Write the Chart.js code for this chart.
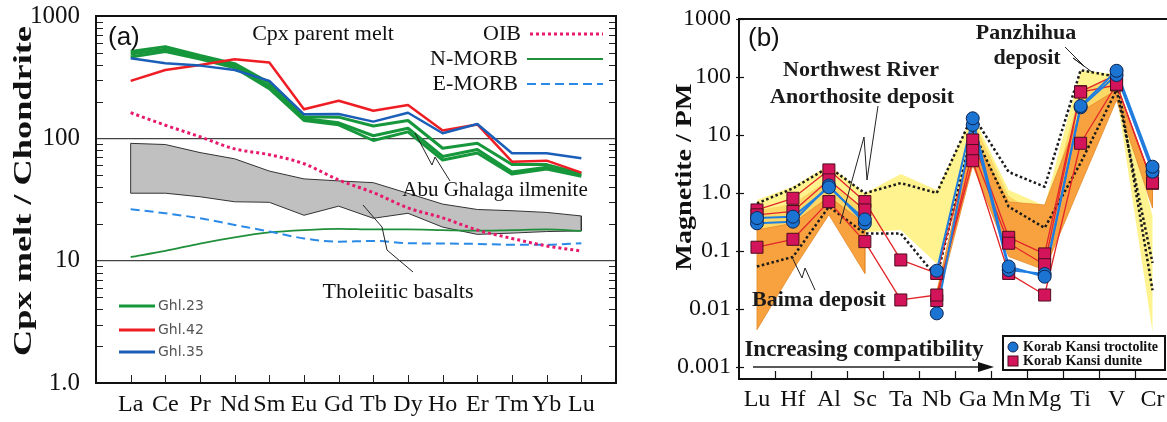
<!DOCTYPE html>
<html><head><meta charset="utf-8">
<script src="https://cdn.jsdelivr.net/npm/chart.js@4.4.1/dist/chart.umd.min.js"></script>
<style>
html,body{margin:0;padding:0;background:#fff;overflow:hidden;}
body{width:1167px;height:422px;position:relative;}
#ca{position:absolute;left:0;top:0;}
#cb{position:absolute;left:640px;top:0;}
</style></head><body>
<canvas id="ca" width="640" height="422"></canvas>
<canvas id="cb" width="540" height="422"></canvas>
<script>
// ---------------- Panel (a) data ----------------
const reeLabels = ['La','Ce','Pr','Nd','Sm','Eu','Gd','Tb','Dy','Ho','Er','Tm','Yb','Lu'];
const ghl23Upper = [512, 562, 475, 408, 285, 150, 149, 126, 140, 83, 91, 61, 61, 51.5];
const ghl23Mid   = [490, 535, 460, 392, 268, 145, 134, 105, 121, 71, 81, 53, 58, 50];
const ghl23Low   = [463, 512, 445, 378, 255, 140, 129, 96, 113, 66.5, 76, 51, 56, 49];
const ghl42 = [295, 362, 398, 443, 416, 173, 203, 168, 187, 116, 130, 64.5, 65.7, 52.5];
const ghl35 = [452, 411, 393, 362, 295, 157, 158, 137, 162, 110, 131, 75.5, 75.5, 68.8];
const oib   = [162, 128, 103, 82, 73.5, 62, 45.7, 36, 27, 22.4, 17.8, 15.2, 13.2, 12.0];
const nmorb = [10.7, 12, 13.8, 15.5, 17, 17.8, 18.2, 18, 18, 17.8, 17.6, 17.8, 18, 17.5];
const emorb = [26.3, 24.4, 22.2, 19.6, 17.3, 15.2, 14.3, 14.5, 13.9, 13.8, 13.7, 13.5, 13.5, 13.9];
const tholUpper = [91, 89, 76.5, 68, 54, 46.6, 44.9, 43.4, 35.5, 29, 26.2, 25.6, 24.8, 23.2];
const tholLower = [35.6, 35.6, 33.3, 30.3, 30, 23.5, 27.9, 22.2, 24.4, 18.8, 16.4, 16.8, 17.3, 17.5];
const yTicksA = [1, 10, 100, 1000];
const yTickLabelsA = ['1.0', '10', '100', '1000'];

// ---------------- Panel (b) data ----------------
const elemLabels = ['Lu','Hf','Al','Sc','Ta','Nb','Ga','Mn','Mg','Ti','V','Cr'];
const troc1 = [0.37, 0.39, 1.25, 0.35, null, 0.0457, 19.4, 0.054, 0.036, 31.6, 128, 2.84];
const troc2 = [0.30, 0.32, 1.35, 0.30, null, 0.0084, 14.9, 0.047, 0.040, 30, 108, 2.33];
const dun1  = [0.51, 0.81, 2.5, 0.71, 0.070, 0.041, 8.2, 0.172, 0.089, 55.8, 110, 2.5];
const dun2  = [0.42, 0.48, 1.68, 0.51, null, 0.014, 5.4, 0.136, 0.058, 55, 72.8, 1.47];
const dun3  = [0.116, 0.159, 0.71, 0.145, 0.0143, 0.0174, 3.6, 0.041, 0.0174, 7.2, 75, 1.5];
const nwUpper = [0.76, 1.29, 3.0, 0.99, 2.13, 1.13, 22, 1.13, 0.6, 131, 110, 0.4];
const nwLower = [0.12, 0.2, 0.8, 0.21, 0.23, 0.06, 3.5, 0.1, 0.06, 5, 50, 0.004];
const goldUpper = [0.5, 0.65, 1.7, 0.5, null, null, 18, 0.9, 0.35, 60, 100, null];
const goldLower = [0.2, 0.3, 0.8, 0.25, null, null, 4, 0.2, 0.1, 5, 60, null];
const baimaUpper = [0.23, 0.30, 0.86, 0.30, null, 0.02, 10, 0.7, 0.62, 25, 60, 1.5];
const baimaLower = [0.0044, 0.047, 0.42, 0.041, null, 0.012, 3, 0.08, 0.047, 1.4, 40, 0.55];
const dotUpper = [0.66, 1.2, 2.8, 0.99, 1.48, 1.0, 22, 2.3, 1.28, 131, 101, 0.021];
const dotLower = [0.054, 0.079, 0.58, 0.2, 0.2, 0.035, 12, 0.58, 0.25, 3.3, 60, 0.062];
const yTicksB = [0.001, 0.01, 0.1, 1, 10, 100, 1000];
const yTickLabelsB = ['0.001', '0.01', '0.1', '1.0', '10', '100', '1000'];

// ---------------- helpers ----------------
const serif = "'Liberation Serif','Times New Roman',serif";
const sans = "'Liberation Sans',Arial,sans-serif";
const pts = arr => arr.map((v, i) => ({x: i, y: v}));
function polyRuns(up, lo) {
  const runs = []; let cur = [];
  for (let i = 0; i < up.length; i++) {
    if (up[i] == null || lo[i] == null) { if (cur.length) runs.push(cur); cur = []; }
    else cur.push(i);
  }
  if (cur.length) runs.push(cur);
  return runs.map(idx => {
    const p = idx.map(i => ({x: i, y: up[i]}));
    for (let k = idx.length - 1; k >= 0; k--) p.push({x: idx[k], y: lo[idx[k]]});
    p.push({x: idx[0], y: up[idx[0]]});
    return p;
  });
}
function line(ctx, pts) { ctx.beginPath(); ctx.moveTo(pts[0][0], pts[0][1]); for (let i = 1; i < pts.length; i++) ctx.lineTo(pts[i][0], pts[i][1]); ctx.stroke(); }
function txt(ctx, s, x, y, font, color, align) { ctx.font = font; ctx.fillStyle = color || '#111'; ctx.textAlign = align || 'left'; ctx.textBaseline = 'middle'; ctx.fillText(s, x, y); }
function vText(ctx, s, cx, cy, font, len) {
  ctx.save(); ctx.font = font; const w = ctx.measureText(s).width;
  ctx.translate(cx, cy); ctx.rotate(-Math.PI / 2); ctx.scale(len / w, 1);
  ctx.fillStyle = '#111'; ctx.textAlign = 'center'; ctx.textBaseline = 'middle'; ctx.fillText(s, 0, 0); ctx.restore();
}
const fitY = w => s => { s.width = w; s.paddingTop = 0; s.paddingBottom = 0; };
const fitX = h => s => { s.height = h; s.paddingLeft = 0; s.paddingRight = 0; };

// ---------------- Panel (a) ----------------
const GREEN = '#17973b', RED = '#ee1d23', BLUE = '#1a5eb8';
const annotA = {id: 'annotA', afterDraw(chart) {
  const {ctx, chartArea: ca, scales: {x, y}} = chart;
  ctx.save();
  ctx.strokeStyle = '#222'; ctx.lineWidth = 1;
  for (const d of [1, 10, 100]) for (let m = 2; m <= 9; m++) {
    const py = Math.round(y.getPixelForValue(m * d)) + 0.5;
    line(ctx, [[ca.left, py], [ca.left + 7, py]]);
    line(ctx, [[ca.right - 7, py], [ca.right, py]]);
  }
  for (let i = 0; i < reeLabels.length; i++) {
    const px = Math.round(x.getPixelForValue(i)) + 0.5;
    line(ctx, [[px, ca.bottom], [px, ca.bottom - 8]]);
  }
  ctx.lineWidth = 2; ctx.strokeStyle = '#111';
  ctx.strokeRect(ca.left, ca.top, ca.right - ca.left, ca.bottom - ca.top);
  // texts
  txt(ctx, '(a)', 108, 38, '26px ' + sans);
  txt(ctx, 'Cpx parent melt', 323, 34, '22px ' + serif, '#111', 'center');
  txt(ctx, 'OIB', 521, 34, '22px ' + serif, '#111', 'right');
  txt(ctx, 'N-MORB', 518, 59, '22px ' + serif, '#111', 'right');
  txt(ctx, 'E-MORB', 518, 84, '22px ' + serif, '#111', 'right');
  ctx.lineWidth = 3; ctx.strokeStyle = '#e6196d'; ctx.setLineDash([3, 3]);
  line(ctx, [[530, 34], [603, 34]]);
  ctx.setLineDash([]); ctx.lineWidth = 2; ctx.strokeStyle = '#1f8f3a';
  line(ctx, [[527, 59], [603, 59]]);
  ctx.setLineDash([9, 5]); ctx.strokeStyle = '#2a8ae6';
  line(ctx, [[527, 84], [603, 84]]);
  ctx.setLineDash([]);
  txt(ctx, 'Abu Ghalaga ilmenite', 495, 190, '21px ' + serif, '#111', 'center');
  txt(ctx, 'Tholeiitic basalts', 398, 292, '22px ' + serif, '#111', 'center');
  ctx.lineWidth = 1; ctx.strokeStyle = '#222';
  line(ctx, [[450, 181], [435, 157], [432, 165], [415, 133]]);
  line(ctx, [[413, 272], [387, 250], [382, 227], [363, 205]]);
  // Ghl legend
  const lg = [[GREEN, 'Ghl.23', 306], [RED, 'Ghl.42', 330], [BLUE, 'Ghl.35', 352]];
  for (const [c, s, yy] of lg) {
    ctx.strokeStyle = c; ctx.lineWidth = 3; line(ctx, [[119, yy], [155, yy]]);
    txt(ctx, s, 158, yy, '14px ' + "'DejaVu Sans',sans-serif", '#555');
  }
  vText(ctx, 'Cpx melt / Chondrite', 25, 191, 'bold 25px ' + serif, 330);
  ctx.restore();
}};

new Chart(document.getElementById('ca'), {
  type: 'line',
  data: {datasets: [
    {data: polyRuns(tholUpper, tholLower)[0], fill: 'shape', backgroundColor: '#c0c0c0', borderColor: '#333', borderWidth: 1, pointRadius: 0, order: 100},
    {data: pts(nmorb), fill: false, borderColor: '#1f8f3a', borderWidth: 1.8, pointRadius: 0, cubicInterpolationMode: 'monotone', order: 50},
    {data: pts(emorb), fill: false, borderColor: '#2a8ae6', borderWidth: 2, borderDash: [9, 5], pointRadius: 0, cubicInterpolationMode: 'monotone', order: 49},
    {data: pts(oib), fill: false, borderColor: '#e6196d', borderWidth: 3, borderDash: [3, 3], pointRadius: 0, cubicInterpolationMode: 'monotone', order: 48},
    {data: pts(ghl23Upper), fill: false, borderColor: GREEN, borderWidth: 3, pointRadius: 0, order: 12},
    {data: pts(ghl23Mid), fill: false, borderColor: GREEN, borderWidth: 3, pointRadius: 0, order: 11},
    {data: pts(ghl23Low), fill: false, borderColor: GREEN, borderWidth: 3, pointRadius: 0, order: 10},
    {data: pts(ghl42), fill: false, borderColor: RED, borderWidth: 2.5, pointRadius: 0, order: 3},
    {data: pts(ghl35), fill: false, borderColor: BLUE, borderWidth: 2.5, pointRadius: 0, order: 2}
  ]},
  options: {
    responsive: false, animation: false, devicePixelRatio: 1,
    layout: {padding: {top: 16, right: 24, left: 0, bottom: 0}},
    plugins: {legend: {display: false}, tooltip: {enabled: false}},
    elements: {line: {borderJoinStyle: 'round'}},
    scales: {
      x: {type: 'linear', min: -1, max: 14,
        afterBuildTicks: s => { s.ticks = reeLabels.map((_, i) => ({value: i})); },
        afterFit: fitX(39),
        grid: {display: false, drawTicks: false}, border: {display: false},
        ticks: {callback: v => reeLabels[v], font: {family: serif, size: 24}, color: '#111', padding: 7, autoSkip: false, maxRotation: 0}},
      y: {type: 'logarithmic', min: 1, max: 1000, bounds: 'data',
        afterBuildTicks: s => { s.ticks = yTicksA.map(v => ({value: v})); },
        afterFit: fitY(96),
        grid: {drawTicks: false, lineWidth: 1.2, color: c => (c.tick && (c.tick.value === 10 || c.tick.value === 100)) ? '#444' : 'rgba(0,0,0,0)'},
        border: {display: false},
        ticks: {callback: v => yTickLabelsA[yTicksA.indexOf(v)], font: {family: serif, size: 25}, color: '#111', padding: 16}}
    }
  },
  plugins: [annotA]
});

// ---------------- Panel (b) ----------------
const CIRC = '#1c74d2', CIRC_B = '#0d2552', SQ = '#d3145a', SQ_B = '#4d0d1e';
const LBLUE = '#1f7ee0', LRED = '#e3262a';
const annotB = {id: 'annotB', afterDraw(chart) {
  const {ctx, chartArea: ca, scales: {x, y}} = chart;
  ctx.save();
  ctx.strokeStyle = '#111'; ctx.lineWidth = 1.2;
  for (const v of yTicksB) { const py = Math.round(y.getPixelForValue(v)) + 0.5; line(ctx, [[ca.left - 3, py], [ca.left + 5, py]]); }
  for (let i = 0; i < elemLabels.length - 1; i++) { const px = Math.round(x.getPixelForValue(i + 0.5)) + 0.5; line(ctx, [[px, ca.bottom], [px, ca.bottom - 8]]); }
  ctx.lineWidth = 2; ctx.strokeRect(ca.left, ca.top, ca.right - ca.left, ca.bottom - ca.top);
  txt(ctx, '(b)', 108, 39, '26px ' + sans);
  const bf = 'bold 22px ' + serif;
  txt(ctx, 'Panzhihua', 386, 33, bf, '#1a1a1a', 'center');
  txt(ctx, 'deposit', 387, 58, bf, '#1a1a1a', 'center');
  txt(ctx, 'Northwest River', 221, 70, bf, '#1a1a1a', 'center');
  txt(ctx, 'Anorthosite deposit', 222, 97, bf, '#1a1a1a', 'center');
  txt(ctx, 'Baima deposit', 179, 300, bf, '#1a1a1a', 'center');
  txt(ctx, 'Increasing compatibility', 224, 350, 'bold 23px ' + serif, '#1a1a1a', 'center');
  ctx.strokeStyle = '#222'; ctx.lineWidth = 1;
  line(ctx, [[425, 47], [444, 66], [433, 58], [452, 72]]);
  line(ctx, [[238, 106], [227, 180], [224, 137], [200, 224]]);
  line(ctx, [[175, 290], [165, 268], [162, 278], [152, 257]]);
  // arrow
  ctx.lineWidth = 1.5; line(ctx, [[113, 367], [342, 367]]);
  ctx.fillStyle = '#111'; ctx.beginPath(); ctx.moveTo(354, 367); ctx.lineTo(338, 362); ctx.lineTo(338, 372); ctx.closePath(); ctx.fill();
  // legend box
  ctx.fillStyle = '#fff'; ctx.fillRect(363, 336, 162, 34);
  ctx.strokeStyle = '#111'; ctx.lineWidth = 2; ctx.strokeRect(363, 336, 162, 34);
  ctx.lineWidth = 1;
  ctx.fillStyle = CIRC; ctx.strokeStyle = CIRC_B; ctx.beginPath(); ctx.arc(373, 347, 5, 0, 2 * Math.PI); ctx.fill(); ctx.stroke();
  ctx.fillStyle = SQ; ctx.strokeStyle = SQ_B; ctx.fillRect(368, 356, 10, 10); ctx.strokeRect(368, 356, 10, 10);
  txt(ctx, 'Korab Kansi troctolite', 383, 347, 'bold 14px ' + serif, '#111');
  txt(ctx, 'Korab Kansi dunite', 383, 361, 'bold 14px ' + serif, '#111');
  vText(ctx, 'Magnetite / PM', 45, 177, 'bold 23px ' + serif, 187);
  ctx.restore();
}};

const polyDs = (up, lo, color, order, border) => polyRuns(up, lo).map(p => ({
  data: p, fill: 'shape', backgroundColor: color, borderColor: border || color, borderWidth: border ? 0.8 : 0, pointRadius: 0, order
}));
const lineDs = (arr, color, w, order) => ({data: pts(arr), fill: false, borderColor: color, borderWidth: w, pointRadius: 0, spanGaps: false, order});
const markDs = (arr, style, fill, border, r, order) => ({data: pts(arr), showLine: false, pointStyle: style, pointRadius: r, pointBackgroundColor: fill, pointBorderColor: border, pointBorderWidth: 1, order});

new Chart(document.getElementById('cb'), {
  type: 'line',
  data: {datasets: [
    ...polyDs(nwUpper, nwLower, '#fff38f', 100),
    ...polyDs(goldUpper, goldLower, '#fdd866', 95),
    ...polyDs(baimaUpper, baimaLower, '#f8a23f', 90, '#e58a2a'),
    {data: pts(dotUpper), fill: false, borderColor: '#1a1a1a', borderWidth: 2.5, borderDash: [2.5, 2.5], pointRadius: 0, order: 60},
    {data: pts(dotLower), fill: false, borderColor: '#1a1a1a', borderWidth: 2.5, borderDash: [2.5, 2.5], pointRadius: 0, order: 59},
    lineDs(dun1, LRED, 1.3, 30), lineDs(dun2, LRED, 1.3, 29), lineDs(dun3, LRED, 1.3, 28),
    lineDs(troc1, LBLUE, 2, 27), lineDs(troc2, LBLUE, 2, 26),
    markDs(dun1, 'rect', SQ, SQ_B, 8.5, 9), markDs(dun2, 'rect', SQ, SQ_B, 8.5, 8), markDs(dun3, 'rect', SQ, SQ_B, 8.5, 7),
    markDs(troc2, 'circle', CIRC, CIRC_B, 6.5, 6), markDs(troc1, 'circle', CIRC, CIRC_B, 6.5, 5)
  ]},
  options: {
    responsive: false, animation: false, devicePixelRatio: 1,
    layout: {padding: {top: 19, right: 9, left: 0, bottom: 0}},
    plugins: {legend: {display: false}, tooltip: {enabled: false}},
    elements: {line: {borderJoinStyle: 'round'}},
    scales: {
      x: {type: 'linear', min: -0.5, max: 11.5,
        afterBuildTicks: s => { s.ticks = elemLabels.map((_, i) => ({value: i})); },
        afterFit: fitX(43),
        grid: {display: false, drawTicks: false}, border: {display: false},
        ticks: {callback: v => elemLabels[v], font: {family: serif, size: 24}, color: '#111', padding: 6, autoSkip: false, maxRotation: 0}},
      y: {type: 'logarithmic', min: 0.00062, max: 1000, bounds: 'data',
        afterBuildTicks: s => { s.ticks = yTicksB.map(v => ({value: v})); },
        afterFit: fitY(99),
        grid: {display: false, drawTicks: false}, border: {display: false},
        ticks: {callback: v => yTickLabelsB[yTicksB.indexOf(v)], font: {family: serif, size: 24}, color: '#111', padding: 8}}
    }
  },
  plugins: [annotB]
});
</script>
</body></html>
